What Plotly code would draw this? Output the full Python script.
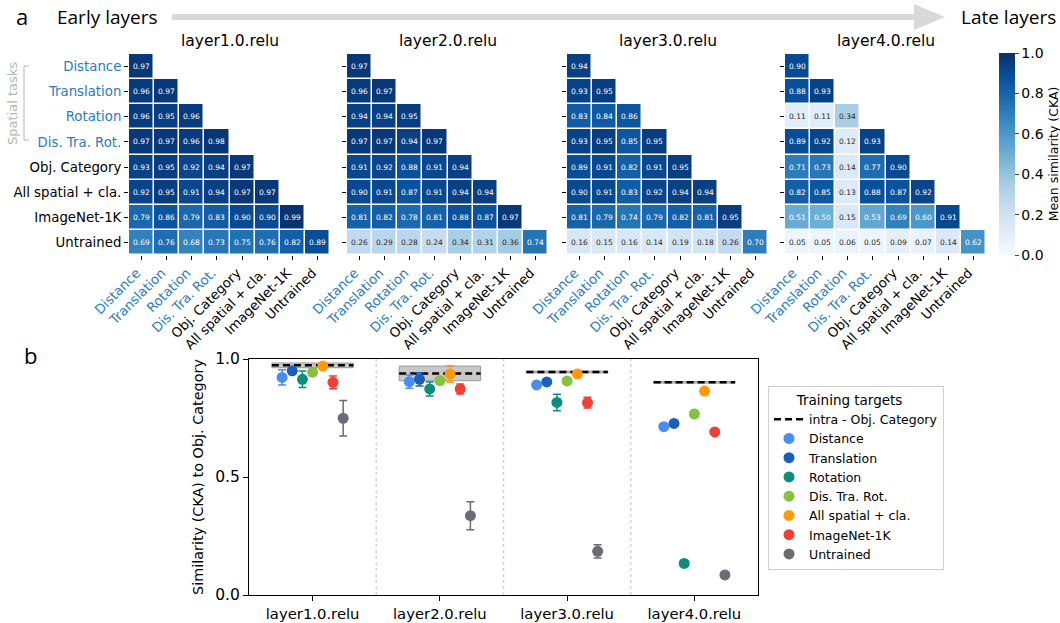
import plotly.graph_objects as go

W, H = 1060, 623

# ---------------- data ----------------
labels = ["Distance", "Translation", "Rotation", "Dis. Tra. Rot.",
          "Obj. Category", "All spatial + cla.", "ImageNet-1K", "Untrained"]
layer_names = ["layer1.0.relu", "layer2.0.relu", "layer3.0.relu", "layer4.0.relu"]

cka_layer1 = [
    [0.97],
    [0.96, 0.97],
    [0.96, 0.95, 0.96],
    [0.97, 0.97, 0.96, 0.98],
    [0.93, 0.95, 0.92, 0.94, 0.97],
    [0.92, 0.95, 0.91, 0.94, 0.97, 0.97],
    [0.79, 0.86, 0.79, 0.83, 0.90, 0.90, 0.99],
    [0.69, 0.76, 0.68, 0.73, 0.75, 0.76, 0.82, 0.89],
]
cka_layer2 = [
    [0.97],
    [0.96, 0.97],
    [0.94, 0.94, 0.95],
    [0.97, 0.97, 0.94, 0.97],
    [0.91, 0.92, 0.88, 0.91, 0.94],
    [0.90, 0.91, 0.87, 0.91, 0.94, 0.94],
    [0.81, 0.82, 0.78, 0.81, 0.88, 0.87, 0.97],
    [0.26, 0.29, 0.28, 0.24, 0.34, 0.31, 0.36, 0.74],
]
cka_layer3 = [
    [0.94],
    [0.93, 0.95],
    [0.83, 0.84, 0.86],
    [0.93, 0.95, 0.85, 0.95],
    [0.89, 0.91, 0.82, 0.91, 0.95],
    [0.90, 0.91, 0.83, 0.92, 0.94, 0.94],
    [0.81, 0.79, 0.74, 0.79, 0.82, 0.81, 0.95],
    [0.16, 0.15, 0.16, 0.14, 0.19, 0.18, 0.26, 0.70],
]
cka_layer4 = [
    [0.90],
    [0.88, 0.93],
    [0.11, 0.11, 0.34],
    [0.89, 0.92, 0.12, 0.93],
    [0.71, 0.73, 0.14, 0.77, 0.90],
    [0.82, 0.85, 0.13, 0.88, 0.87, 0.92],
    [0.51, 0.50, 0.15, 0.53, 0.69, 0.60, 0.91],
    [0.05, 0.05, 0.06, 0.05, 0.09, 0.07, 0.14, 0.62],
]
cka_all = [cka_layer1, cka_layer2, cka_layer3, cka_layer4]

series_names = ["Distance", "Translation", "Rotation", "Dis. Tra. Rot.",
                "All spatial + cla.", "ImageNet-1K", "Untrained"]
sim_distance = [0.922, 0.904, 0.890, 0.713]
sim_translation = [0.950, 0.914, 0.903, 0.727]
sim_rotation = [0.914, 0.873, 0.816, 0.134]
sim_dtr = [0.944, 0.908, 0.907, 0.767]
sim_allspatial = [0.970, 0.936, 0.936, 0.864]
sim_imagenet = [0.901, 0.873, 0.815, 0.691]
sim_untrained = [0.749, 0.336, 0.185, 0.085]
err_distance = [0.032, 0.028, 0.006, 0.006]
err_translation = [0.012, 0.028, 0.006, 0.006]
err_rotation = [0.035, 0.030, 0.035, 0.012]
err_dtr = [0.014, 0.014, 0.006, 0.006]
err_allspatial = [0.006, 0.035, 0.006, 0.006]
err_imagenet = [0.027, 0.021, 0.023, 0.006]
err_untrained = [0.075, 0.059, 0.028, 0.010]
intra_obj = [0.973, 0.939, 0.945, 0.901]
intra_obj_sd = [0.010, 0.031, 0.004, 0.003]

series_vals = [sim_distance, sim_translation, sim_rotation, sim_dtr,
               sim_allspatial, sim_imagenet, sim_untrained]
series_errs = [err_distance, err_translation, err_rotation, err_dtr,
               err_allspatial, err_imagenet, err_untrained]
series_colors = ["#4a8cf0", "#1a5fbf", "#0b8f7c", "#86c240",
                 "#fd9a0a", "#ee4035", "#6b6b73"]

# ---------------- styling ----------------
FONT = "DejaVu Sans"
BLUE_LBL = "#2a7bc4"
blues = [[0.0, "#f7fbff"], [0.125, "#deebf7"], [0.25, "#c6dbef"],
         [0.375, "#9ecae1"], [0.5, "#6baed6"], [0.625, "#4292c6"],
         [0.75, "#2171b5"], [0.875, "#08519c"], [1.0, "#08306b"]]


def px_x(p):
    return p / W


def px_y(p):
    return 1 - p / H


heat_x_px = [(129, 330), (347, 548), (567, 768), (785, 986)]
heat_y_px = (54, 255)

fig = go.Figure()
layout = dict(
    width=W, height=H, margin=dict(l=0, r=0, t=0, b=0, autoexpand=False),
    paper_bgcolor="white", plot_bgcolor="white",
    font=dict(family=FONT, size=12, color="black"),
    showlegend=True,
)

tick_labels_colored = [
    (f'<span style="color:{BLUE_LBL}">{l}</span>' if i < 4 else l)
    for i, l in enumerate(labels)
]

annotations = []
shapes = []
n = len(labels)
for k, tri in enumerate(cka_all):
    z = [[(tri[r][c] if c <= r else None) for c in range(n)] for r in range(n)]
    ax = "" if k == 0 else str(k + 1)
    fig.add_trace(go.Heatmap(
        z=z, x=list(range(n)), y=list(range(n)),
        colorscale=blues, zmin=0, zmax=1, xgap=1.5, ygap=1.5,
        showscale=(k == 3), hoverongaps=False,
        xaxis="x" + ax, yaxis="y" + ax, showlegend=False,
        colorbar=dict(
            x=px_x(999), xanchor="left", y=px_y(154), yanchor="middle",
            lenmode="pixels", len=202, thickness=16, outlinewidth=0,
            xpad=0, ypad=0,
            tickvals=[0, 0.2, 0.4, 0.6, 0.8, 1.0], ticktext=["0.0", "0.2", "0.4", "0.6", "0.8", "1.0"],
            ticks="outside", ticklen=4, tickfont=dict(size=14, family=FONT),
            title=dict(text="Mean similarity (CKA)", side="right",
                       font=dict(size=12.5, family=FONT)),
        ),
    ))
    x0, x1 = heat_x_px[k]
    layout["xaxis" + ax] = dict(
        domain=[px_x(x0), px_x(x1)], range=[-0.5, n - 0.5], automargin=False,
        anchor="y" + ax, showgrid=False, zeroline=False, showline=False,
        tickmode="array", tickvals=list(range(n)), ticktext=tick_labels_colored,
        tickangle=-45, ticks="outside", ticklen=4, tickcolor="black",
        ticklabelshift=-5,
        tickfont=dict(size=13.3, family=FONT), fixedrange=True,
    )
    layout["yaxis" + ax] = dict(
        domain=[px_y(heat_y_px[1]), px_y(heat_y_px[0])], range=[n - 0.5, -0.5],
        anchor="x" + ax, showgrid=False, zeroline=False, showline=False, automargin=False,
        tickmode="array", tickvals=list(range(n)), ticktext=tick_labels_colored,
        showticklabels=(k == 0), ticks="outside", ticklen=4, tickcolor="black",
        tickfont=dict(size=13.3, family=FONT), fixedrange=True,
    )
    for r in range(n):
        for c in range(r + 1):
            v = tri[r][c]
            annotations.append(dict(
                x=c, y=r, xref="x" + ax, yref="y" + ax, text=f"{v:.2f}",
                showarrow=False,
                font=dict(size=7.5, family=FONT,
                          color="white" if v > 0.45 else "#262626"),
            ))
    annotations.append(dict(
        x=(x0 + x1) / 2 / W, y=px_y(41), xref="paper", yref="paper",
        text=layer_names[k], showarrow=False, xanchor="center", yanchor="middle",
        font=dict(size=15.5, family=FONT),
    ))

# ---------------- panel b ----------------
offsets = [-0.24, -0.16, -0.08, 0.0, 0.08, 0.16, 0.24]
half = 0.32

for i in range(4):
    lo, hi = intra_obj[i] - intra_obj_sd[i], intra_obj[i] + intra_obj_sd[i]
    fig.add_trace(go.Scatter(
        x=[i - half, i + half, i + half, i - half, i - half],
        y=[lo, lo, hi, hi, lo], mode="lines", fill="toself",
        fillcolor="rgba(170,170,170,0.65)", line=dict(color="#9a9a9a", width=1),
        xaxis="x5", yaxis="y5", showlegend=False, hoverinfo="skip",
    ))

dash_x, dash_y = [], []
for i in range(4):
    dash_x += [i - half, i + half, None]
    dash_y += [intra_obj[i], intra_obj[i], None]
fig.add_trace(go.Scatter(
    x=dash_x, y=dash_y, mode="lines", name="intra - Obj. Category",
    line=dict(color="black", width=2.5, dash="7px,4px"),
    xaxis="x5", yaxis="y5",
))

for s, name in enumerate(series_names):
    fig.add_trace(go.Scatter(
        x=[i + offsets[s] for i in range(4)], y=series_vals[s],
        error_y=dict(type="data", array=series_errs[s], color=series_colors[s],
                     thickness=1.5, width=4),
        mode="markers", name=name, cliponaxis=False,
        marker=dict(color=series_colors[s], size=11, line=dict(width=0)),
        xaxis="x5", yaxis="y5",
    ))

layout["xaxis5"] = dict(
    domain=[px_x(249), px_x(758)], range=[-0.5, 3.5], anchor="y5", automargin=False,
    tickmode="array", tickvals=[0, 1, 2, 3], ticktext=layer_names,
    ticks="outside", ticklen=5, tickcolor="black",
    showline=True, linecolor="black", linewidth=1.2, mirror=True,
    showgrid=False, zeroline=False, tickfont=dict(size=14.8, family=FONT),
    fixedrange=True,
)
layout["yaxis5"] = dict(
    domain=[px_y(595), px_y(359)], range=[0, 1], anchor="x5", automargin=False,
    tickmode="array", tickvals=[0, 0.5, 1.0], ticktext=["0.0", "0.5", "1.0"],
    ticks="outside", ticklen=5, tickcolor="black",
    showline=True, linecolor="black", linewidth=1.2, mirror=True,
    showgrid=False, zeroline=False, tickfont=dict(size=15.5, family=FONT),
    title=dict(text="Similarity (CKA) to Obj. Category", font=dict(size=14.4, family=FONT),
               standoff=8),
    fixedrange=True,
)
for i in range(3):
    shapes.append(dict(type="line", xref="x5", yref="y5 domain",
                       x0=i + 0.5, x1=i + 0.5, y0=0, y1=1,
                       line=dict(color="#d4d4d4", width=1.5, dash="dot"), layer="below"))

layout["legend"] = dict(
    x=px_x(768), y=px_y(386), xanchor="left", yanchor="top",
    bordercolor="#d0d0d0", borderwidth=1, bgcolor="white",
    font=dict(size=12.5, family=FONT), tracegroupgap=0, itemwidth=30,
    title=dict(text="      Training targets", font=dict(size=13.5, family=FONT), side="top"),
)

# ---------------- decorations ----------------
annotations += [
    dict(x=px_x(22), y=px_y(16), xref="paper", yref="paper", text="a", showarrow=False,
         font=dict(size=22, family="Open Sans"), xanchor="center", yanchor="middle"),
    dict(x=px_x(55), y=px_y(17), xref="paper", yref="paper", text="Early layers",
         showarrow=False, font=dict(size=19, family="Open Sans"),
         xanchor="left", yanchor="middle"),
    dict(x=px_x(1058), y=px_y(17), xref="paper", yref="paper", text="Late layers",
         showarrow=False, font=dict(size=19, family="Open Sans"),
         xanchor="right", yanchor="middle"),
    dict(x=px_x(30), y=px_y(355), xref="paper", yref="paper", text="b", showarrow=False,
         font=dict(size=22, family="Open Sans"), xanchor="center", yanchor="middle"),
    dict(x=px_x(13), y=px_y(104), xref="paper", yref="paper", text="Spatial tasks",
         showarrow=False, textangle=-90, font=dict(size=13, family=FONT, color="#b4b4b4"),
         xanchor="center", yanchor="middle"),
]
shapes += [
    dict(type="line", xref="paper", yref="paper", x0=px_x(172), x1=px_x(918),
         y0=px_y(17), y1=px_y(17), line=dict(color="#d9d9d9", width=6)),
    dict(type="path", xref="paper", yref="paper",
         path=f"M {px_x(914)} {px_y(4)} L {px_x(945)} {px_y(17)} L {px_x(914)} {px_y(30)} Z",
         fillcolor="#d9d9d9", line=dict(width=0)),
    dict(type="path", xref="paper", yref="paper",
         path=f"M {px_x(29)} {px_y(66)} L {px_x(24)} {px_y(66)} L {px_x(24)} {px_y(140)} L {px_x(29)} {px_y(140)}",
         line=dict(color="#b4b4b4", width=1)),
]

layout["annotations"] = annotations
layout["shapes"] = shapes
fig.update_layout(**layout)
fig.write_html(
    "out.html",
    config={"displayModeBar": False},
    post_script="document.body.style.margin='0px';document.body.style.overflow='hidden';",
)
